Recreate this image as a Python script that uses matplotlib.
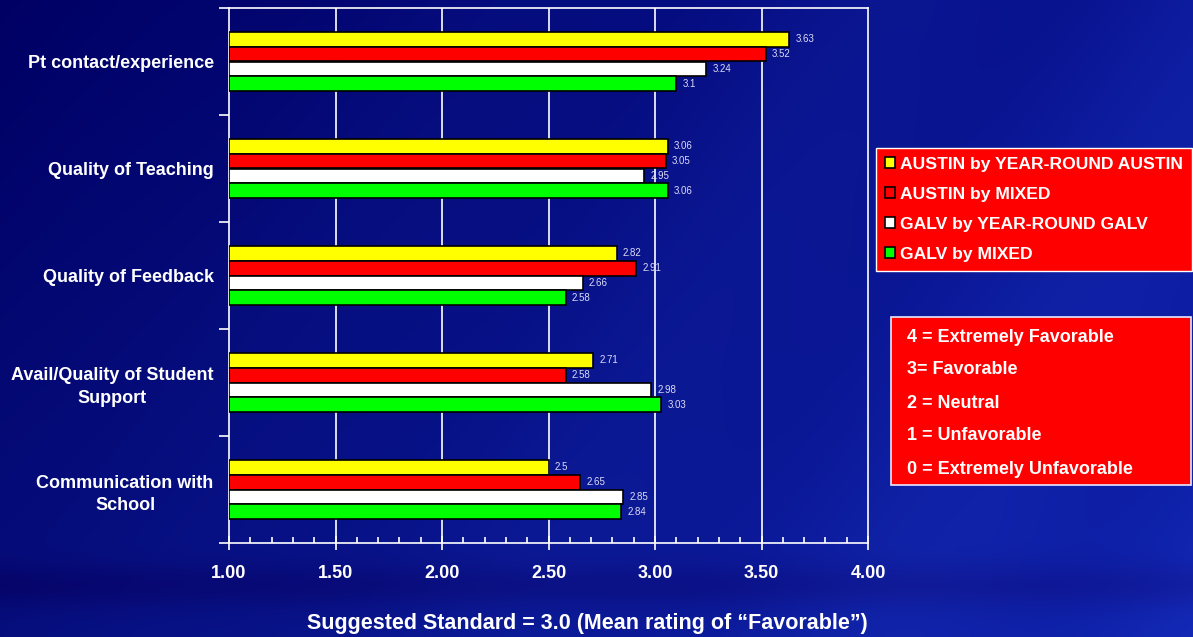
import matplotlib
matplotlib.use("Agg")
import matplotlib.pyplot as plt
import numpy as np
from matplotlib.patches import Rectangle
from matplotlib.ticker import MultipleLocator, FixedLocator

plt.rcParams['font.family'] = ['Liberation Sans', 'DejaVu Sans']

categories = ["Pt contact/experience", "Quality of Teaching", "Quality of Feedback",
              "Avail/Quality of Student\nSupport", "Communication with\nSchool"]
series_names = ["AUSTIN by YEAR-ROUND AUSTIN", "AUSTIN by MIXED",
                "GALV by YEAR-ROUND GALV", "GALV by MIXED"]
austin_yr = [3.63, 3.06, 2.82, 2.71, 2.5]
austin_mixed = [3.52, 3.05, 2.91, 2.58, 2.65]
galv_yr = [3.24, 2.95, 2.66, 2.98, 2.85]
galv_mixed = [3.1, 3.06, 2.58, 3.03, 2.84]
series_values = [austin_yr, austin_mixed, galv_yr, galv_mixed]
series_colors = ["#ffff00", "#ff0000", "#ffffff", "#00ff00"]
x_ticks = [1.0, 1.5, 2.0, 2.5, 3.0, 3.5, 4.0]
scale_notes = ["4 = Extremely Favorable", "3= Favorable", "2 = Neutral",
               "1 = Unfavorable", "0 = Extremely Unfavorable"]
x_caption = "Suggested Standard = 3.0 (Mean rating of \u201cFavorable\u201d)"

W, H = 1193, 637
fig = plt.figure(figsize=(W / 100, H / 100), dpi=100)

# slide background: navy gradient with soft diagonal bands
bg = fig.add_axes([0, 0, 1, 1], zorder=-10)
yy, xx = np.mgrid[0:H, 0:W]
u = xx / W
v = yy / H
r = 0 + 10 * u + 6 * v
g = 0 + 22 * u + 14 * v
b = 100 + 50 * u + 25 * v
band = np.sin((xx * 0.9 + yy * 0.55) / 55.0) * 0.5 + 0.5
r = r + 4 * band * u
g = g + 7 * band * u
b = b + 10 * band * u
dark = np.exp(-((yy - 585) / 22.0) ** 2)
b = b - 16 * dark
g = g - 8 * dark
img = np.clip(np.dstack([r, g, b]) / 255.0, 0, 1)
bg.imshow(img, aspect='auto', extent=[0, 1, 0, 1], origin='upper')
bg.set_axis_off()

ax = fig.add_axes([229 / W, 1 - 543 / H, (868 - 229) / W, (543 - 8) / H])
ax.set_facecolor('none')

n = len(categories)
y = np.arange(n)
h = 0.14
offsets = [-1.5 * h, -0.5 * h, 0.5 * h, 1.5 * h]
for vals, color, off, name in zip(series_values, series_colors, offsets, series_names):
    ax.barh(y + off, np.array(vals) - 1.0, left=1.0, height=h, color=color,
            edgecolor='black', linewidth=1.2, label=name, zorder=3)
    for yi, val in zip(y + off, vals):
        ax.text(val + 0.03, yi, f"{val:g}", color='#dcdcf5', fontsize=7,
                va='center', ha='left', zorder=4)

ax.set_xlim(1.0, 4.0)
ax.set_ylim(n - 0.5, -0.5)
ax.xaxis.set_major_locator(FixedLocator(x_ticks))
ax.xaxis.set_minor_locator(MultipleLocator(0.1))
ax.set_xticklabels([f"{t:.2f}" for t in x_ticks])
ax.tick_params(axis='x', which='major', direction='inout', length=10, width=1.2,
               color='white', labelcolor='white', labelsize=13, pad=11)
ax.tick_params(axis='x', which='minor', direction='in', length=4, width=1.2, color='white')
for lab in ax.get_xticklabels():
    lab.set_fontweight('bold')

ax.set_yticks(y)
ax.set_yticklabels(categories)
ax.yaxis.set_minor_locator(FixedLocator(np.arange(-0.5, n, 1.0)))
ax.tick_params(axis='y', which='major', length=0, labelcolor='white', labelsize=13, pad=11)
ax.tick_params(axis='y', which='minor', direction='out', length=7, width=1.2, color='white')
for lab in ax.get_yticklabels():
    lab.set_fontweight('bold')
    lab.set_multialignment('center')
    lab.set_linespacing(1.4)

for xv in x_ticks[1:-1]:
    ax.axvline(xv, color='white', linewidth=1.2, zorder=1)
for s in ax.spines.values():
    s.set_color('white')
    s.set_linewidth(1.2)

fig.text(587 / W, 1 - 623 / H, x_caption, ha='center', va='center',
         color='white', fontsize=15.5, fontweight='bold')

# series legend in a red box
handles = [Rectangle((0, 0), 1, 1, facecolor=c, edgecolor='black', linewidth=1.2)
           for c in series_colors]
leg = fig.legend(handles, series_names, loc='upper left',
                 bbox_to_anchor=(876 / W, 1 - 148 / H), frameon=True, fancybox=False,
                 facecolor='#ff0000', edgecolor='white', framealpha=1,
                 prop={'weight': 'bold', 'size': 12.6}, handlelength=0.6,
                 handleheight=0.6, handletextpad=0.3, labelspacing=0.86,
                 borderpad=0.5, borderaxespad=0)
for t in leg.get_texts():
    t.set_color('white')

# rating scale key
fig.patches.append(Rectangle((891 / W, 1 - 485 / H), (1191 - 891) / W, (485 - 317) / H,
                             transform=fig.transFigure, facecolor='#ff0000',
                             edgecolor='#e8e8ff', linewidth=1.2, zorder=2))
for i, note in enumerate(scale_notes):
    fig.text(907 / W, 1 - (337 + 33 * i) / H, note, ha='left', va='center',
             color='white', fontsize=13, fontweight='bold', zorder=3)

fig.savefig("out.png", dpi=100)
